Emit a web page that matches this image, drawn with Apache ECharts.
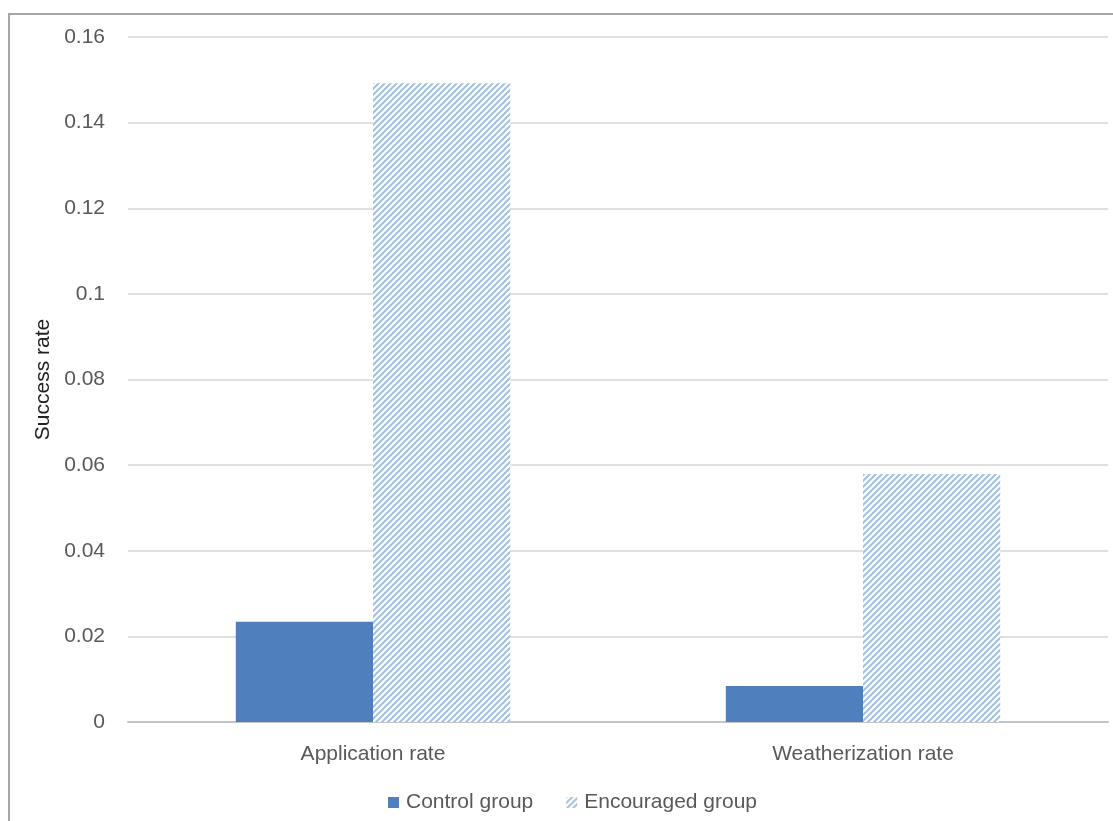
<!DOCTYPE html>
<html>
<head>
<meta charset="utf-8">
<style>
  html, body { margin: 0; padding: 0; background: #fff; }
  #chart { width: 1113px; height: 821px; }
</style>
<script src="https://cdn.jsdelivr.net/npm/echarts@6/dist/echarts.min.js"></script>
</head>
<body>
<div id="chart"></div>
<script>
// Categories and series values
const categories = ['Application rate', 'Weatherization rate'];
const controlGroup = [0.0234, 0.0084];
const encouragedGroup = [0.1492, 0.0579];
const yTicks = [0, 0.02, 0.04, 0.06, 0.08, 0.1, 0.12, 0.14, 0.16];

// Diagonal hatch fill for the encouraged group
function makeHatch(size, stroke, width) {
  const c = document.createElement('canvas');
  c.width = size; c.height = size;
  const g = c.getContext('2d');
  g.fillStyle = '#ffffff';
  g.fillRect(0, 0, size, size);
  g.strokeStyle = stroke;
  g.lineWidth = width;
  g.lineCap = 'square';
  g.beginPath();
  g.moveTo(-1, size + 1); g.lineTo(size + 1, -1);
  g.moveTo(-1, 1); g.lineTo(1, -1);
  g.moveTo(size - 1, size + 1); g.lineTo(size + 1, size - 1);
  g.stroke();
  return c;
}
const hatch = { image: makeHatch(6, '#a3c0e2', 2), repeat: 'repeat' };

const font = '"Liberation Sans", Arial, sans-serif';
const chart = echarts.init(document.getElementById('chart'), null, { renderer: 'canvas' });

chart.setOption({
  animation: false,
  backgroundColor: '#ffffff',
  textStyle: { fontFamily: font },
  grid: { left: 128, right: 5, top: 37, bottom: 99, containLabel: false },
  legend: {
    left: 383,
    top: 787,
    itemWidth: 11,
    itemHeight: 11,
    itemGap: 33,
    icon: 'rect',
    textStyle: { fontSize: 21, color: '#595959', fontFamily: font, padding: [0, 0, 0, 2] },
    data: ['Control group', 'Encouraged group']
  },
  xAxis: {
    type: 'category',
    data: categories,
    axisTick: { show: false },
    axisLine: { lineStyle: { color: '#c4c4c4', width: 2 } },
    axisLabel: { fontSize: 21, color: '#595959', margin: 22, fontFamily: font }
  },
  yAxis: {
    type: 'value',
    min: yTicks[0],
    max: yTicks[yTicks.length - 1],
    interval: 0.02,
    name: 'Success rate',
    nameLocation: 'middle',
    nameGap: 71,
    nameTextStyle: { fontSize: 21, color: '#222222', fontFamily: font },
    axisLine: { show: false },
    axisTick: { show: false },
    splitLine: { lineStyle: { color: '#e0e0e0', width: 2 } },
    axisLabel: {
      fontSize: 21, color: '#595959', margin: 23, fontFamily: font,
      formatter: v => String(+v.toFixed(2))
    }
  },
  series: [
    {
      name: 'Control group',
      type: 'bar',
      data: controlGroup,
      barGap: '0%',
      barCategoryGap: '44%',
      itemStyle: { color: '#4f7fbd' }
    },
    {
      name: 'Encouraged group',
      type: 'bar',
      data: encouragedGroup,
      barGap: '0%',
      barCategoryGap: '44%',
      itemStyle: { color: hatch }
    }
  ],
  graphic: [
    { type: 'line', shape: { x1: 9, y1: 14, x2: 9, y2: 821 }, style: { stroke: '#a6a6a6', lineWidth: 2 }, silent: true },
    { type: 'line', shape: { x1: 8, y1: 14, x2: 1113, y2: 14 }, style: { stroke: '#a6a6a6', lineWidth: 2 }, silent: true }
  ]
});
</script>
</body>
</html>
